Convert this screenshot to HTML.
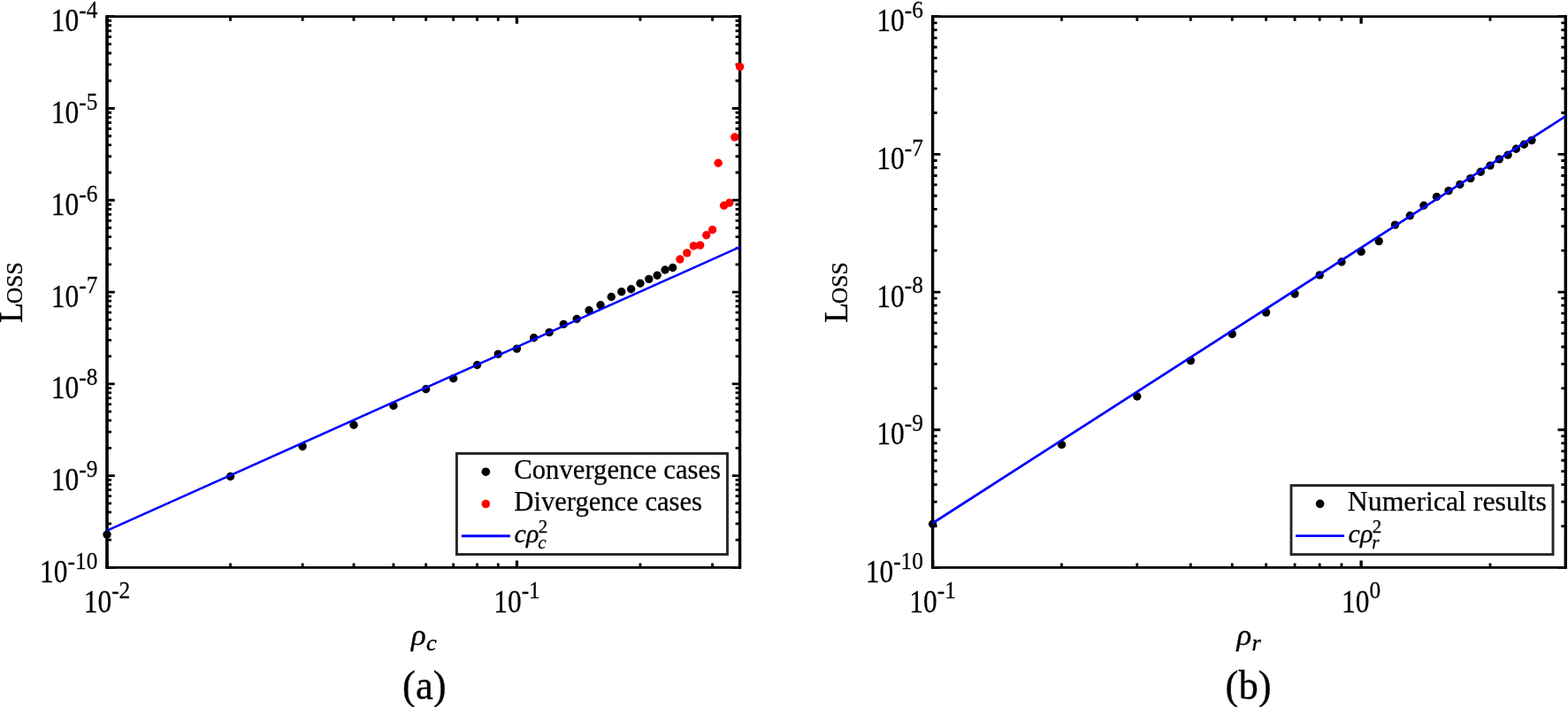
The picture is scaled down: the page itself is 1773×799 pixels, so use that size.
<!DOCTYPE html>
<html lang="en">
<head>
<meta charset="utf-8">
<title>Loss scaling plots</title>
<style>
html,body{margin:0;padding:0;background:#fff;}
body{width:1773px;height:799px;overflow:hidden;}
svg{display:block;}
text{font-family:"Liberation Serif","DejaVu Serif",serif;fill:#000;}
.ax{fill:none;stroke:#000;stroke-width:2.8;}
.axv{fill:none;stroke:#000;stroke-width:3.35;}
.tk{fill:none;stroke:#000;stroke-width:2.8;}
.tkm{fill:none;stroke:#000;stroke-width:3.3;}
.fit{fill:none;stroke:#00f;stroke-width:2.9;}
.lg{fill:#fff;stroke:#262626;stroke-width:2.9;}
.tl{font-size:34.8px;stroke:#000;stroke-width:0.25px;}
.ex{font-size:28px;}
.yl{font-size:38px;stroke:#000;stroke-width:0.3px;}
.ySC{font-size:25.6px;text-transform:uppercase;}
.xl{font-size:32.8px;font-style:italic;stroke:#000;stroke-width:0.35px;}
.xs{font-size:25px;}
.pn{font-size:46.2px;stroke:#000;stroke-width:0.35px;}
.lt{font-size:31px;stroke:#000;stroke-width:0.25px;}
.lm{font-size:30px;font-style:italic;stroke:#000;stroke-width:0.3px;}
.ls{font-size:21px;}
.up{font-style:normal;}
</style>
</head>
<body>
<svg width="1773" height="799" viewBox="0 0 1773 799">
<rect width="1773" height="799" fill="#fff"/>
<g class="plot">
<path class="tk" d="M121.00 641.40h8.8M836.60 641.40h-8.8M121.00 610.16h5.0M836.60 610.16h-5.0M121.00 591.88h5.0M836.60 591.88h-5.0M121.00 578.92h5.0M836.60 578.92h-5.0M121.00 568.86h5.0M836.60 568.86h-5.0M121.00 560.64h5.0M836.60 560.64h-5.0M121.00 553.69h5.0M836.60 553.69h-5.0M121.00 547.67h5.0M836.60 547.67h-5.0M121.00 542.37h5.0M836.60 542.37h-5.0M121.00 537.62h8.8M836.60 537.62h-8.8M121.00 506.37h5.0M836.60 506.37h-5.0M121.00 488.10h5.0M836.60 488.10h-5.0M121.00 475.13h5.0M836.60 475.13h-5.0M121.00 465.08h5.0M836.60 465.08h-5.0M121.00 456.86h5.0M836.60 456.86h-5.0M121.00 449.91h5.0M836.60 449.91h-5.0M121.00 443.89h5.0M836.60 443.89h-5.0M121.00 438.58h5.0M836.60 438.58h-5.0M121.00 433.83h8.8M836.60 433.83h-8.8M121.00 402.59h5.0M836.60 402.59h-5.0M121.00 384.32h5.0M836.60 384.32h-5.0M121.00 371.35h5.0M836.60 371.35h-5.0M121.00 361.29h5.0M836.60 361.29h-5.0M121.00 353.07h5.0M836.60 353.07h-5.0M121.00 346.13h5.0M836.60 346.13h-5.0M121.00 340.11h5.0M836.60 340.11h-5.0M121.00 334.80h5.0M836.60 334.80h-5.0M121.00 330.05h8.8M836.60 330.05h-8.8M121.00 298.81h5.0M836.60 298.81h-5.0M121.00 280.53h5.0M836.60 280.53h-5.0M121.00 267.57h5.0M836.60 267.57h-5.0M121.00 257.51h5.0M836.60 257.51h-5.0M121.00 249.29h5.0M836.60 249.29h-5.0M121.00 242.34h5.0M836.60 242.34h-5.0M121.00 236.32h5.0M836.60 236.32h-5.0M121.00 231.02h5.0M836.60 231.02h-5.0M121.00 226.27h8.8M836.60 226.27h-8.8M121.00 195.02h5.0M836.60 195.02h-5.0M121.00 176.75h5.0M836.60 176.75h-5.0M121.00 163.78h5.0M836.60 163.78h-5.0M121.00 153.73h5.0M836.60 153.73h-5.0M121.00 145.51h5.0M836.60 145.51h-5.0M121.00 138.56h5.0M836.60 138.56h-5.0M121.00 132.54h5.0M836.60 132.54h-5.0M121.00 127.23h5.0M836.60 127.23h-5.0M121.00 122.48h8.8M836.60 122.48h-8.8M121.00 91.24h5.0M836.60 91.24h-5.0M121.00 72.97h5.0M836.60 72.97h-5.0M121.00 60.00h5.0M836.60 60.00h-5.0M121.00 49.94h5.0M836.60 49.94h-5.0M121.00 41.72h5.0M836.60 41.72h-5.0M121.00 34.78h5.0M836.60 34.78h-5.0M121.00 28.76h5.0M836.60 28.76h-5.0M121.00 23.45h5.0M836.60 23.45h-5.0M121.00 18.70h8.8M836.60 18.70h-8.8M260.51 641.40v-5.0M260.51 18.70v5.0M342.12 641.40v-5.0M342.12 18.70v5.0M400.03 641.40v-5.0M400.03 18.70v5.0M444.94 641.40v-5.0M444.94 18.70v5.0M481.64 641.40v-5.0M481.64 18.70v5.0M512.66 641.40v-5.0M512.66 18.70v5.0M539.54 641.40v-5.0M539.54 18.70v5.0M563.24 641.40v-5.0M563.24 18.70v5.0M723.96 641.40v-5.0M723.96 18.70v5.0M805.57 641.40v-5.0M805.57 18.70v5.0"/>
<path class="tkm" d="M121.00 641.40v-8.0M121.00 18.70v8.0M584.45 641.40v-8.0M584.45 18.70v8.0"/>
<rect class="ax" x="121.00" y="18.70" width="715.60" height="622.70"/>
<path class="axv" d="M121.00 17.30V642.80M836.60 17.30V642.80"/>
<circle cx="121.00" cy="604.10" r="4.7" fill="#000"/>
<circle cx="260.51" cy="538.50" r="4.7" fill="#000"/>
<circle cx="342.12" cy="504.50" r="4.7" fill="#000"/>
<circle cx="400.03" cy="480.20" r="4.7" fill="#000"/>
<circle cx="444.94" cy="458.50" r="4.7" fill="#000"/>
<circle cx="481.64" cy="439.70" r="4.7" fill="#000"/>
<circle cx="512.66" cy="427.70" r="4.7" fill="#000"/>
<circle cx="539.54" cy="412.50" r="4.7" fill="#000"/>
<circle cx="563.24" cy="400.10" r="4.7" fill="#000"/>
<circle cx="584.45" cy="394.10" r="4.7" fill="#000"/>
<circle cx="603.63" cy="381.80" r="4.7" fill="#000"/>
<circle cx="621.15" cy="375.60" r="4.7" fill="#000"/>
<circle cx="637.26" cy="366.40" r="4.7" fill="#000"/>
<circle cx="652.17" cy="360.50" r="4.7" fill="#000"/>
<circle cx="666.06" cy="350.80" r="4.7" fill="#000"/>
<circle cx="679.05" cy="344.80" r="4.7" fill="#000"/>
<circle cx="691.25" cy="335.50" r="4.7" fill="#000"/>
<circle cx="702.76" cy="329.80" r="4.7" fill="#000"/>
<circle cx="713.64" cy="326.80" r="4.7" fill="#000"/>
<circle cx="723.96" cy="320.30" r="4.7" fill="#000"/>
<circle cx="733.78" cy="315.40" r="4.7" fill="#000"/>
<circle cx="743.15" cy="311.30" r="4.7" fill="#000"/>
<circle cx="752.09" cy="305.00" r="4.7" fill="#000"/>
<circle cx="760.66" cy="302.50" r="4.7" fill="#000"/>
<circle cx="768.88" cy="293.00" r="4.7" fill="#f00"/>
<circle cx="776.77" cy="285.90" r="4.7" fill="#f00"/>
<circle cx="784.37" cy="277.90" r="4.7" fill="#f00"/>
<circle cx="791.69" cy="277.10" r="4.7" fill="#f00"/>
<circle cx="798.75" cy="265.70" r="4.7" fill="#f00"/>
<circle cx="805.57" cy="259.70" r="4.7" fill="#f00"/>
<circle cx="812.17" cy="184.20" r="4.7" fill="#f00"/>
<circle cx="818.56" cy="232.30" r="4.7" fill="#f00"/>
<circle cx="824.76" cy="229.20" r="4.7" fill="#f00"/>
<circle cx="830.77" cy="155.00" r="4.7" fill="#f00"/>
<circle cx="836.60" cy="75.40" r="4.7" fill="#f00"/>
<path class="fit" style="stroke-width:2.6px" d="M121.00 599.65L836.60 279.15"/>
<text class="tl" transform="translate(110.30 657.90) scale(0.905 1)" text-anchor="end">10<tspan class="ex" dy="-15.2">-10</tspan></text>
<text class="tl" transform="translate(110.30 554.12) scale(0.905 1)" text-anchor="end">10<tspan class="ex" dy="-15.2">-9</tspan></text>
<text class="tl" transform="translate(110.30 450.33) scale(0.905 1)" text-anchor="end">10<tspan class="ex" dy="-15.2">-8</tspan></text>
<text class="tl" transform="translate(110.30 346.55) scale(0.905 1)" text-anchor="end">10<tspan class="ex" dy="-15.2">-7</tspan></text>
<text class="tl" transform="translate(110.30 242.77) scale(0.905 1)" text-anchor="end">10<tspan class="ex" dy="-15.2">-6</tspan></text>
<text class="tl" transform="translate(110.30 138.98) scale(0.905 1)" text-anchor="end">10<tspan class="ex" dy="-15.2">-5</tspan></text>
<text class="tl" transform="translate(110.30 35.20) scale(0.905 1)" text-anchor="end">10<tspan class="ex" dy="-15.2">-4</tspan></text>
<text class="tl" transform="translate(121.00 691.7) scale(0.905 1)" text-anchor="middle">10<tspan class="ex" dy="-15.8">-2</tspan></text>
<text class="tl" transform="translate(584.45 691.7) scale(0.905 1)" text-anchor="middle">10<tspan class="ex" dy="-15.8">-1</tspan></text>
<text class="yl" transform="translate(25.00 364.95) rotate(-90)">L<tspan class="ySC" dx="-1.5">oss</tspan></text>
<text class="xl" transform="translate(464.90 729.0) scale(1.06 1)">ρ<tspan class="xs" dy="6.4" dx="0.3">c</tspan></text>
<text class="pn" transform="translate(479.80 790.2) scale(0.965 1)" text-anchor="middle">(a)</text>
<rect class="lg" x="516.40" y="512.50" width="306.10" height="114.00"/>
<circle cx="549.3" cy="533.2" r="4.8" fill="#000"/>
<text class="lt" x="581.3" y="541.1" textLength="233.7" lengthAdjust="spacingAndGlyphs">Convergence cases</text>
<circle cx="549.3" cy="569.5" r="4.8" fill="#f00"/>
<text class="lt" x="581.3" y="576.6" textLength="212.7" lengthAdjust="spacingAndGlyphs">Divergence cases</text>
<path class="fit" d="M521.9 605.7H576.8"/>
<text class="lm" x="581.4" y="613.0">c<tspan dx="0.3">ρ</tspan><tspan class="ls up" dy="-10.8" dx="-0.8">2</tspan><tspan class="ls" dy="18" dx="-11.0">c</tspan></text>
</g>
<g class="plot">
<path class="tk" d="M1054.60 641.40h8.8M1770.30 641.40h-8.8M1054.60 594.54h5.0M1770.30 594.54h-5.0M1054.60 567.12h5.0M1770.30 567.12h-5.0M1054.60 547.67h5.0M1770.30 547.67h-5.0M1054.60 532.59h5.0M1770.30 532.59h-5.0M1054.60 520.26h5.0M1770.30 520.26h-5.0M1054.60 509.84h5.0M1770.30 509.84h-5.0M1054.60 500.81h5.0M1770.30 500.81h-5.0M1054.60 492.85h5.0M1770.30 492.85h-5.0M1054.60 485.73h8.8M1770.30 485.73h-8.8M1054.60 438.86h5.0M1770.30 438.86h-5.0M1054.60 411.45h5.0M1770.30 411.45h-5.0M1054.60 392.00h5.0M1770.30 392.00h-5.0M1054.60 376.91h5.0M1770.30 376.91h-5.0M1054.60 364.59h5.0M1770.30 364.59h-5.0M1054.60 354.16h5.0M1770.30 354.16h-5.0M1054.60 345.14h5.0M1770.30 345.14h-5.0M1054.60 337.17h5.0M1770.30 337.17h-5.0M1054.60 330.05h8.8M1770.30 330.05h-8.8M1054.60 283.19h5.0M1770.30 283.19h-5.0M1054.60 255.77h5.0M1770.30 255.77h-5.0M1054.60 236.32h5.0M1770.30 236.32h-5.0M1054.60 221.24h5.0M1770.30 221.24h-5.0M1054.60 208.91h5.0M1770.30 208.91h-5.0M1054.60 198.49h5.0M1770.30 198.49h-5.0M1054.60 189.46h5.0M1770.30 189.46h-5.0M1054.60 181.50h5.0M1770.30 181.50h-5.0M1054.60 174.38h8.8M1770.30 174.38h-8.8M1054.60 127.51h5.0M1770.30 127.51h-5.0M1054.60 100.10h5.0M1770.30 100.10h-5.0M1054.60 80.65h5.0M1770.30 80.65h-5.0M1054.60 65.56h5.0M1770.30 65.56h-5.0M1054.60 53.24h5.0M1770.30 53.24h-5.0M1054.60 42.81h5.0M1770.30 42.81h-5.0M1054.60 33.79h5.0M1770.30 33.79h-5.0M1054.60 25.82h5.0M1770.30 25.82h-5.0M1054.60 18.70h8.8M1770.30 18.70h-8.8M1200.46 641.40v-5.0M1200.46 18.70v5.0M1285.78 641.40v-5.0M1285.78 18.70v5.0M1346.31 641.40v-5.0M1346.31 18.70v5.0M1393.27 641.40v-5.0M1393.27 18.70v5.0M1431.63 641.40v-5.0M1431.63 18.70v5.0M1464.07 641.40v-5.0M1464.07 18.70v5.0M1492.17 641.40v-5.0M1492.17 18.70v5.0M1516.95 641.40v-5.0M1516.95 18.70v5.0M1684.98 641.40v-5.0M1684.98 18.70v5.0M1770.30 641.40v-5.0M1770.30 18.70v5.0"/>
<path class="tkm" d="M1054.60 641.40v-8.0M1054.60 18.70v8.0M1539.12 641.40v-8.0M1539.12 18.70v8.0"/>
<rect class="ax" x="1054.60" y="18.70" width="715.70" height="622.70"/>
<path class="axv" d="M1054.60 17.30V642.80M1770.30 17.30V642.80"/>
<circle cx="1054.60" cy="592.20" r="4.7" fill="#000"/>
<circle cx="1200.46" cy="502.50" r="4.7" fill="#000"/>
<circle cx="1285.78" cy="448.00" r="4.7" fill="#000"/>
<circle cx="1346.31" cy="407.60" r="4.7" fill="#000"/>
<circle cx="1393.27" cy="377.50" r="4.7" fill="#000"/>
<circle cx="1431.63" cy="353.10" r="4.7" fill="#000"/>
<circle cx="1464.07" cy="332.10" r="4.7" fill="#000"/>
<circle cx="1492.17" cy="310.90" r="4.7" fill="#000"/>
<circle cx="1516.95" cy="296.00" r="4.7" fill="#000"/>
<circle cx="1539.12" cy="284.40" r="4.7" fill="#000"/>
<circle cx="1559.18" cy="272.60" r="4.7" fill="#000"/>
<circle cx="1577.49" cy="254.10" r="4.7" fill="#000"/>
<circle cx="1594.33" cy="243.80" r="4.7" fill="#000"/>
<circle cx="1609.93" cy="232.20" r="4.7" fill="#000"/>
<circle cx="1624.44" cy="222.40" r="4.7" fill="#000"/>
<circle cx="1638.02" cy="215.60" r="4.7" fill="#000"/>
<circle cx="1650.78" cy="208.50" r="4.7" fill="#000"/>
<circle cx="1662.81" cy="201.60" r="4.7" fill="#000"/>
<circle cx="1674.19" cy="194.30" r="4.7" fill="#000"/>
<circle cx="1684.98" cy="187.10" r="4.7" fill="#000"/>
<circle cx="1695.25" cy="179.90" r="4.7" fill="#000"/>
<circle cx="1705.04" cy="175.10" r="4.7" fill="#000"/>
<circle cx="1714.39" cy="168.20" r="4.7" fill="#000"/>
<circle cx="1723.34" cy="163.20" r="4.7" fill="#000"/>
<circle cx="1731.93" cy="158.60" r="4.7" fill="#000"/>
<path class="fit" style="stroke-width:2.7px" d="M1054.60 591.24L1770.30 131.34"/>
<text class="tl" transform="translate(1043.90 657.90) scale(0.905 1)" text-anchor="end">10<tspan class="ex" dy="-15.2">-10</tspan></text>
<text class="tl" transform="translate(1043.90 502.23) scale(0.905 1)" text-anchor="end">10<tspan class="ex" dy="-15.2">-9</tspan></text>
<text class="tl" transform="translate(1043.90 346.55) scale(0.905 1)" text-anchor="end">10<tspan class="ex" dy="-15.2">-8</tspan></text>
<text class="tl" transform="translate(1043.90 190.88) scale(0.905 1)" text-anchor="end">10<tspan class="ex" dy="-15.2">-7</tspan></text>
<text class="tl" transform="translate(1043.90 35.20) scale(0.905 1)" text-anchor="end">10<tspan class="ex" dy="-15.2">-6</tspan></text>
<text class="tl" transform="translate(1054.60 691.7) scale(0.905 1)" text-anchor="middle">10<tspan class="ex" dy="-15.8">-1</tspan></text>
<text class="tl" transform="translate(1539.12 691.7) scale(0.905 1)" text-anchor="middle">10<tspan class="ex" dy="-15.8">0</tspan></text>
<text class="yl" transform="translate(958.20 364.95) rotate(-90)">L<tspan class="ySC" dx="-1.5">oss</tspan></text>
<text class="xl" transform="translate(1398.55 729.0) scale(1.06 1)">ρ<tspan class="xs" dy="6.4" dx="0.3">r</tspan></text>
<text class="pn" transform="translate(1411.55 790.2) scale(0.965 1)" text-anchor="middle">(b)</text>
<rect class="lg" x="1460.00" y="548.60" width="296.00" height="78.00"/>
<circle cx="1492.6" cy="569.4" r="4.8" fill="#000"/>
<text class="lt" x="1523.8" y="576.6" textLength="225.0" lengthAdjust="spacingAndGlyphs">Numerical results</text>
<path class="fit" d="M1465.0 605.6H1520.1"/>
<text class="lm" x="1524.4" y="613.0">c<tspan dx="0.3">ρ</tspan><tspan class="ls up" dy="-10.8" dx="-0.8">2</tspan><tspan class="ls" dy="18" dx="-11.0">r</tspan></text>
</g>
</svg>
</body>
</html>
